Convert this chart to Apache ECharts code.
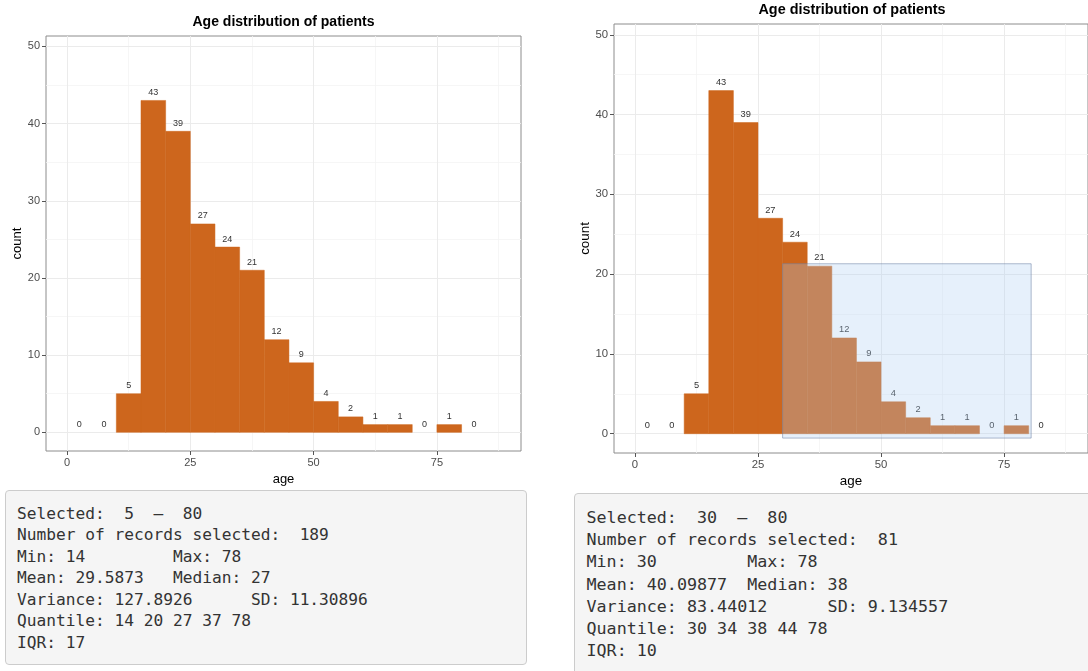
<!DOCTYPE html>
<html>
<head>
<meta charset="utf-8">
<script src="https://cdn.jsdelivr.net/npm/echarts@6/dist/echarts.min.js"></script>
<style>
  html, body { margin:0; padding:0; background:#fff; width:1088px; height:671px; overflow:hidden; }
  #chart { position:absolute; left:0; top:0; width:1088px; height:671px; }
  pre.stats {
    position:absolute; margin:0; box-sizing:border-box;
    font-family:"DejaVu Sans Mono", monospace; color:#333;
    background:#f5f5f5; border:1px solid #cccccc; border-radius:4px;
    white-space:pre; overflow:hidden;
  }
  #box1 { left:5px; top:490px; width:522px; height:175px; font-size:16.2px; line-height:21.5px; padding:11.5px 0 0 11px; }
  #box2 { left:573.5px; top:493px; width:530px; height:200px; font-size:16.7px; line-height:22.2px; padding:12px 0 0 12px; }
</style>
</head>
<body>
<div id="chart"></div>
<pre class="stats" id="box1"></pre>
<pre class="stats" id="box2"></pre>
<script>
// ---- data ----
const chartTitle = 'Age distribution of patients';
const binEdges = [0,5,10,15,20,25,30,35,40,45,50,55,60,65,70,75,80,85];
const counts   = [0,0,5,43,39,27,24,21,12,9,4,2,1,1,0,1,0];
const xTicks = [0,25,50,75];
const xMinor = [12.5,37.5,62.5,87.5];
const yTicks = [0,10,20,30,40,50];
const yMinor = [5,15,25,35,45];
const brushX = [30, 80.5];
const brushY = [-0.55, 21.3];
const statsLeft = [
  'Selected:  5  \u2013  80',
  'Number of records selected:  189',
  'Min: 14         Max: 78',
  'Mean: 29.5873   Median: 27',
  'Variance: 127.8926      SD: 11.30896',
  'Quantile: 14 20 27 37 78',
  'IQR: 17'
];
const statsRight = [
  'Selected:  30  \u2013  80',
  'Number of records selected:  81',
  'Min: 30         Max: 78',
  'Mean: 40.09877  Median: 38',
  'Variance: 83.44012      SD: 9.134557',
  'Quantile: 30 34 38 44 78',
  'IQR: 10'
];

document.getElementById('box1').textContent = statsLeft.join('\n');
document.getElementById('box2').textContent = statsRight.join('\n');

const FONT = 'Liberation Sans, Arial, Helvetica, sans-serif';
const X_MIN = -4.26, X_MAX = 92.05, Y_MIN = -2.42, Y_MAX = 51.35;

const binData = counts.map((c, i) => [binEdges[i], binEdges[i+1], c]);

const grids = [
  { left:46, top:36, width:475, height:415 },
  { left:614, top:24, width:476, height:429 }
];
const scaleF = [1, 1.03];

const option = {
  animation:false,
  grid: grids.map(g => Object.assign({ show:true, borderColor:'#8c8c8c', borderWidth:1, backgroundColor:'#ffffff' }, g)),
  xAxis: grids.map((g, gi) => ({
    gridIndex: gi, type:'value', min:X_MIN, max:X_MAX,
    splitLine:{show:false},
    axisLine:{show:false, onZero:false},
    axisTick:{show:true, length:4, customValues:xTicks, lineStyle:{color:'#555', width:1}},
    axisLabel:{customValues:xTicks, color:'#4d4d4d', fontSize:11*scaleF[gi], margin:6, fontFamily:FONT},
    name:'age', nameLocation:'middle', nameGap: gi ? 19.5 : 18.5,
    nameTextStyle:{fontSize:13*scaleF[gi], color:'#000', fontFamily:FONT}
  })),
  yAxis: grids.map((g, gi) => ({
    gridIndex: gi, type:'value', min:Y_MIN, max:Y_MAX,
    splitLine:{show:false},
    axisLine:{show:false, onZero:false},
    axisTick:{show:true, length:4, customValues:yTicks, lineStyle:{color:'#555', width:1}},
    axisLabel:{customValues:yTicks, color:'#4d4d4d', fontSize:11*scaleF[gi], margin:6, fontFamily:FONT},
    name:'count', nameLocation:'middle', nameGap:21,
    nameTextStyle:{fontSize:13*scaleF[gi], color:'#000', fontFamily:FONT}
  })),
  graphic: [
    { type:'text', x:283.5, y:22, z:10, style:{ text:chartTitle, textAlign:'center', textVerticalAlign:'middle', font:'bold 14px ' + FONT, fill:'#000' } },
    { type:'text', x:852, y:10, z:10, style:{ text:chartTitle, textAlign:'center', textVerticalAlign:'middle', font:'bold 14.4px ' + FONT, fill:'#000' } }
  ],
  series: []
};

grids.forEach((g, gi) => {
  // panel grid lines (below bars)
  option.series.push({
    type:'line', xAxisIndex:gi, yAxisIndex:gi, data:[], z:0, silent:true,
    markLine:{
      z:0, zlevel:0,
      symbol:['none','none'], silent:true, animation:false,
      label:{show:false}, emphasis:{disabled:true},
      data: [].concat(
        xMinor.map(v => ({ xAxis:v, lineStyle:{color:'#f4f4f4', width:0.8, type:'solid'} })),
        yMinor.map(v => ({ yAxis:v, lineStyle:{color:'#f4f4f4', width:0.8, type:'solid'} })),
        xTicks.map(v => ({ xAxis:v, lineStyle:{color:'#ebebeb', width:1, type:'solid'} })),
        yTicks.map(v => ({ yAxis:v, lineStyle:{color:'#ebebeb', width:1, type:'solid'} }))
      )
    }
  });
  // histogram
  const fs = 9 * scaleF[gi];
  option.series.push({
    type:'custom', xAxisIndex:gi, yAxisIndex:gi, z:3, silent:true,
    data: binData,
    renderItem: function (params, api) {
      const x0 = api.value(0), x1 = api.value(1), c = api.value(2);
      const p0 = api.coord([x0, 0]);
      const p1 = api.coord([x1, c]);
      const children = [];
      if (c > 0) {
        children.push({
          type:'rect',
          shape:{ x:p0[0], y:p1[1], width:p1[0]-p0[0], height:p0[1]-p1[1] },
          style:{ fill:'#cd661d', stroke:'#cd661d', lineWidth:0.5 }
        });
      }
      children.push({
        type:'text', z2:5,
        x:(p0[0]+p1[0])/2, y:p1[1] - 8*scaleF[gi],
        style:{ text:String(c), textAlign:'center', textVerticalAlign:'middle', font: fs + 'px ' + FONT, fill:'#333' }
      });
      return { type:'group', children:children };
    }
  });
});

// brush selection on right chart (above bars)
option.series.push({
  type:'line', xAxisIndex:1, yAxisIndex:1, data:[], z:10, silent:true,
  markArea:{
    z:10,
    silent:true, animation:false, label:{show:false},
    itemStyle:{ color:'rgba(172,205,242,0.3)', borderColor:'rgba(110,130,165,0.55)', borderWidth:1 },
    data:[[ { coord:[brushX[0], brushY[0]] }, { coord:[brushX[1], brushY[1]] } ]]
  }
});

const chart = echarts.init(document.getElementById('chart'));
chart.setOption(option);
</script>
</body>
</html>
